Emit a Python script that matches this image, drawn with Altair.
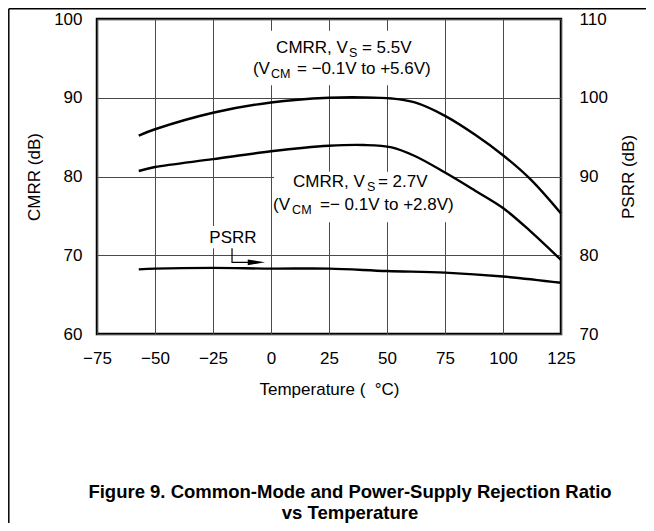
import altair as alt
import pandas as pd

# ---- data ----
temp_cmrr = [-57, -50, -25, 0, 25, 40, 52, 62, 75, 88, 100, 112, 125]
cmrr_55 = [85.2, 86.0, 88.1, 89.4, 90.0, 90.05, 89.9, 89.4, 87.7, 85.3, 82.7, 79.6, 75.3]
cmrr_27 = [80.7, 81.2, 82.2, 83.2, 83.9, 84.0, 83.7, 82.6, 80.5, 78.2, 76.0, 73.0, 69.4]
temp_psrr = [-57, -50, -25, 0, 25, 50, 75, 100, 125]
psrr = [78.2, 78.3, 78.4, 78.3, 78.3, 78.0, 77.8, 77.3, 76.5]

x_ticks = [-75, -50, -25, 0, 25, 50, 75, 100, 125]
cmrr_ticks = [60, 70, 80, 90, 100]
psrr_ticks = [70, 80, 90, 100, 110]

# annotation text segments (main text and subscripts), anchored in data units
main_text = ["CMRR, V", "= 5.5V", "(V", "= \u22120.1V to +5.6V)",
             "CMRR, V", "= 2.7V", "(V", "=\u2212 0.1V to +2.8V)"]
main_t = [2.2, 39.2, -7.8, 11.2, 9.5, 46.1, 0.9, 21.1]
main_v = [95.7, 95.7, 93.0, 93.0, 78.7, 78.7, 75.8, 75.8]
sub_text = ["S", "CM", "S", "CM"]
sub_t = [33.6, 0.0, 41.4, 9.1]
sub_v = [95.2, 92.5, 78.2, 75.2]
psrr_label = ["PSRR"]
psrr_label_t = [-16.4]
psrr_label_v = [71.6]

# white backgrounds behind annotation text (data units)
box_t1 = [-9.9, 1.3, -28.4]
box_t2 = [72.8, 78.0, -4.7]
box_v1 = [98.5, 80.6, 73.7]
box_v2 = [91.6, 74.2, 70.9]

# PSRR pointer arrow
arrow_t = [-16.8, -16.8, -8.0]
arrow_v = [70.9, 69.1, 69.1]
arrow_head_t = [-6.3]
arrow_head_v = [69.1]

caption_lines = ["Figure 9. Common-Mode and Power-Supply Rejection Ratio",
                 "vs Temperature"]

FONT = "Liberation Sans"

# ---- tables ----
df_cmrr = pd.DataFrame({
    "t": temp_cmrr * 2,
    "v": cmrr_55 + cmrr_27,
    "series": ["5.5V"] * len(temp_cmrr) + ["2.7V"] * len(temp_cmrr),
})
df_psrr = pd.DataFrame({"t": temp_psrr, "v": psrr})
df_main = pd.DataFrame({"t": main_t, "v": main_v, "txt": main_text})
df_sub = pd.DataFrame({"t": sub_t, "v": sub_v, "txt": sub_text})
df_plab = pd.DataFrame({"t": psrr_label_t, "v": psrr_label_v, "txt": psrr_label})
df_box = pd.DataFrame({"t": box_t1, "t2": box_t2, "v1": box_v1, "v2": box_v2})
df_arrow = pd.DataFrame({"t": arrow_t, "v": arrow_v, "o": list(range(len(arrow_t)))})
df_head = pd.DataFrame({"t": arrow_head_t, "v": arrow_head_v})
one = pd.DataFrame({"a": [0]})

xscale = alt.Scale(domain=[-75, 125], nice=False, zero=False)
yscale = alt.Scale(domain=[60, 100], nice=False, zero=False)
pscale = alt.Scale(domain=[70, 110], nice=False, zero=False)

x_axis = alt.Axis(values=x_ticks, title="Temperature (\u00a0\u00a0\u00b0C)", grid=True,
                  gridColor="#4a4a4a", gridWidth=1, domain=False, ticks=False, tickSize=0,
                  labelPadding=16, titlePadding=15, labelFlush=False, labelOverlap=False)
X = alt.X("t:Q", scale=xscale, axis=x_axis)

left_axis = alt.Axis(values=cmrr_ticks, title="CMRR (dB)", orient="left", grid=True,
                     gridColor="#4a4a4a", gridWidth=1, domain=False, ticks=False, tickSize=0,
                     labelPadding=15, titlePadding=10, labelFlush=False, labelOverlap=False)
right_axis = alt.Axis(values=psrr_ticks, title="PSRR (dB)", orient="right", grid=False,
                      domain=False, ticks=False, tickSize=0, labelPadding=18, titlePadding=30,
                      titleAngle=270, labelFlush=False, labelOverlap=False)

boxes = alt.Chart(df_box).mark_rect(color="white").encode(
    x=X, x2="t2:Q",
    y=alt.Y("v1:Q", scale=yscale, axis=None), y2="v2:Q",
)

cmrr_lines = alt.Chart(df_cmrr).mark_line(color="black", strokeWidth=2.4,
                                          interpolate="catmull-rom").encode(
    x=X, y=alt.Y("v:Q", scale=yscale, axis=left_axis), detail="series:N")

psrr_line = alt.Chart(df_psrr).mark_line(color="black", strokeWidth=2.4,
                                         interpolate="catmull-rom").encode(
    x=X, y=alt.Y("v:Q", scale=pscale, axis=right_axis))

arrow = alt.Chart(df_arrow).mark_line(color="black", strokeWidth=1.2).encode(
    x=X, y=alt.Y("v:Q", scale=yscale, axis=None), order="o:Q")

head = alt.Chart(df_head).mark_point(
    shape="M-1,-0.33L1,0L-1,0.33Z", filled=True, color="black", opacity=1, size=300
).encode(x=X, y=alt.Y("v:Q", scale=yscale, axis=None))

main_txt = alt.Chart(df_main).mark_text(
    align="left", baseline="alphabetic", font=FONT, fontSize=17, color="black"
).encode(x=X, y=alt.Y("v:Q", scale=yscale, axis=None), text="txt:N")

sub_txt = alt.Chart(df_sub).mark_text(
    align="left", baseline="alphabetic", font=FONT, fontSize=12.5, color="black"
).encode(x=X, y=alt.Y("v:Q", scale=yscale, axis=None), text="txt:N")

plab = alt.Chart(df_plab).mark_text(
    align="center", baseline="alphabetic", font=FONT, fontSize=17, color="black"
).encode(x=X, y=alt.Y("v:Q", scale=yscale, axis=None), text="txt:N")

frame_v = alt.Chart(one).mark_rule(color="black", strokeWidth=1.5).encode(
    x=alt.value(-88.2), y=alt.value(-10.2), y2=alt.value(510))
frame_h = alt.Chart(one).mark_rule(color="black", strokeWidth=1.5).encode(
    x=alt.value(-88.2), x2=alt.value(560), y=alt.value(-10.2))

cap1 = alt.Chart(pd.DataFrame({"txt": caption_lines[:1]})).mark_text(
    align="center", baseline="middle", font=FONT, fontSize=18.5, fontWeight="bold",
    color="black").encode(x=alt.value(253), y=alt.value(473), text="txt:N")
cap2 = alt.Chart(pd.DataFrame({"txt": caption_lines[1:]})).mark_text(
    align="center", baseline="middle", font=FONT, fontSize=18.5, fontWeight="bold",
    color="black").encode(x=alt.value(253), y=alt.value(494), text="txt:N")

chart = alt.layer(
    boxes, cmrr_lines, psrr_line, arrow, head, main_txt, sub_txt, plab,
    frame_v, frame_h, cap1, cap2
).resolve_scale(y="independent").properties(
    width=464, height=315,
    autosize=alt.AutoSizeParams(type="none"),
    padding={"left": 89, "top": 11, "right": 85, "bottom": 189},
).configure_view(
    stroke="black", strokeWidth=2.5
).configure_axis(
    labelFont=FONT, titleFont=FONT, labelFontSize=17, titleFontSize=17,
    labelColor="black", titleColor="black", titleFontWeight="normal"
)

chart.save("out.html", embed_options={"renderer": "svg", "actions": False})
